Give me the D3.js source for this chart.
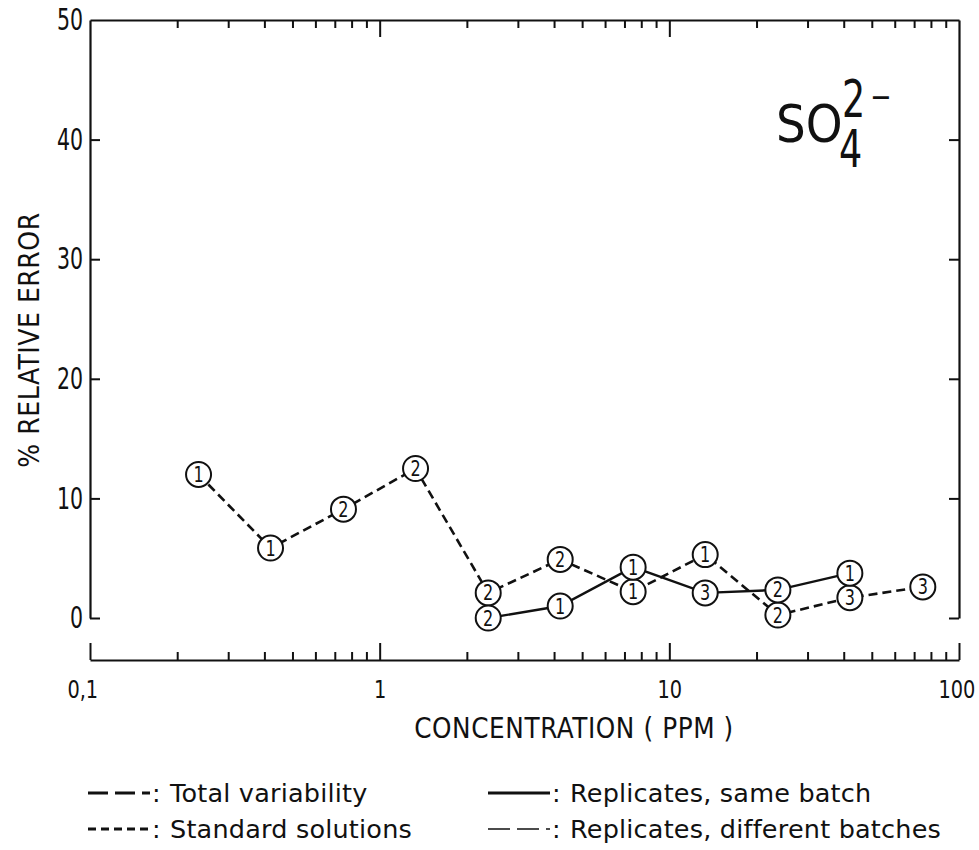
<!DOCTYPE html>
<html>
<head>
<meta charset="utf-8">
<title>SO4 relative error</title>
<script src="https://d3js.org/d3.v7.min.js"></script>
<style>
  body { margin: 0; background: #fff; }
  text { font-family: "DejaVu Sans Condensed", "DejaVu Sans", sans-serif; fill: #111; }
</style>
</head>
<body>
<div id="chart"></div>
<script>
// data
const dashedConc = [0.237, 0.42, 0.75, 1.33, 2.37, 4.2, 7.5, 13.3, 23.7, 42, 75]
const dashedError = [12.0, 5.85, 9.1, 12.5, 2.1, 4.9, 2.2, 5.3, 0.25, 1.7, 2.6]
const dashedLabels = ["1", "1", "2", "2", "2", "2", "1", "1", "2", "3", "3"]

const solidConc = [2.37, 4.2, 7.5, 13.3, 23.7, 42]
const solidError = [0, 1.0, 4.25, 2.1, 2.35, 3.75]
const solidLabels = ["2", "1", "1", "3", "2", "1"]

const yTicks = [0, 10, 20, 30, 40, 50]
const xMajor = [0.1, 1, 10, 100]
const xMajorLabels = ["0,1", "1", "10", "100"]

const legendItems = [
  {label: "Total variability", dash: "20,7", width: 3},
  {label: "Standard solutions", dash: "8,5", width: 3},
  {label: "Replicates, same batch", dash: null, width: 3},
  {label: "Replicates, different batches", dash: "22,7", width: 1.5}
]

const W = 979, H = 850
const svg = d3.select("#chart").append("svg")
    .attr("width", W).attr("height", H)

const x = d3.scaleLog().domain([0.1, 100]).range([90, 959])
const y = d3.scaleLinear().domain([0, 50]).range([618, 20])
const xAxisY = 660

// minor tick values 2..9 per decade
let xMinor = []
for (let d = 0.1; d < 100; d *= 10) {
  for (let k = 2; k <= 9; k++) xMinor.push(+(d * k).toPrecision(3))
}

function styleAxis(g) {
  g.selectAll("path.domain").attr("stroke", "#111").attr("stroke-width", 2.2)
  g.selectAll(".tick line").attr("stroke", "#111").attr("stroke-width", 2)
}

// bottom axis (ticks pointing up)
svg.append("g")
    .attr("transform", "translate(0," + xAxisY + ")")
    .call(d3.axisBottom(x).tickValues(xMinor).tickSize(-8).tickSizeOuter(0).tickFormat(""))
    .call(styleAxis)
svg.append("g")
    .attr("transform", "translate(0," + xAxisY + ")")
    .call(d3.axisBottom(x).tickValues(xMajor).tickSize(-17).tickSizeOuter(0)
        .tickPadding(20).tickFormat((d, i) => xMajorLabels[i]))
    .call(styleAxis)
    .call(g => g.select("path.domain").remove())
    .selectAll("text")
      .attr("font-size", 25)
      .attr("dy", "0.71em")
      .attr("x", d => d === 0.1 ? -9 : (d === 100 ? -3 : 0))
      .attr("transform", "scale(0.86,1)")

// top axis (ticks pointing down)
svg.append("g")
    .attr("transform", "translate(0," + y(50) + ")")
    .call(d3.axisTop(x).tickValues(xMinor).tickSize(-8).tickSizeOuter(0).tickFormat(""))
    .call(styleAxis)
svg.append("g")
    .attr("transform", "translate(0," + y(50) + ")")
    .call(d3.axisTop(x).tickValues([1, 10]).tickSize(-17).tickSizeOuter(0).tickFormat(""))
    .call(styleAxis)
    .call(g => g.select("path.domain").remove())

// left axis
const ySx = 0.76
svg.append("g")
    .attr("transform", "translate(" + x(0.1) + ",0)")
    .call(d3.axisLeft(y).tickValues(yTicks).tickSize(-10).tickSizeOuter(0).tickPadding(7))
    .call(styleAxis)
    .call(g => g.selectAll(".tick").filter(d => d === 50).select("line").remove())
    .selectAll("text")
      .attr("font-size", 30)
      .attr("x", -7 / ySx)
      .attr("transform", "scale(" + ySx + ",1)")

// right axis
svg.append("g")
    .attr("transform", "translate(" + x(100) + ",0)")
    .call(d3.axisRight(y).tickValues(yTicks.slice(0, 5)).tickSize(-10).tickSizeOuter(0).tickFormat(""))
    .call(styleAxis)

// axis titles
svg.append("text")
    .attr("x", 574).attr("y", 738)
    .attr("text-anchor", "middle")
    .attr("font-size", 27.5)
    .attr("letter-spacing", 0.6)
    .text("CONCENTRATION ( PPM )")

svg.append("text")
    .attr("transform", "translate(39,340) rotate(-90)")
    .attr("text-anchor", "middle")
    .attr("font-size", 28)
    .attr("letter-spacing", 0.5)
    .text("% RELATIVE ERROR")

// ion label
svg.append("text").attr("x", 776).attr("y", 142).attr("font-size", 52).text("SO")
svg.append("text").attr("transform", "translate(842,117) scale(0.78,1)").attr("font-size", 52).text("2")
svg.append("text").attr("transform", "translate(871,109) scale(1.1,1)").attr("font-size", 40).text("\u2013")
svg.append("text").attr("transform", "translate(839,167) scale(0.78,1)").attr("font-size", 52).text("4")

// lines
const dashedPts = dashedConc.map((c, i) => ({c: c, e: dashedError[i], n: dashedLabels[i]}))
const solidPts = solidConc.map((c, i) => ({c: c, e: solidError[i], n: solidLabels[i]}))

const line = d3.line().x(d => x(d.c)).y(d => y(d.e))

svg.append("path")
    .datum(dashedPts)
    .attr("d", line)
    .attr("fill", "none")
    .attr("stroke", "#111")
    .attr("stroke-width", 2.6)
    .attr("stroke-dasharray", "9,5")

svg.append("path")
    .datum(solidPts)
    .attr("d", line)
    .attr("fill", "none")
    .attr("stroke", "#111")
    .attr("stroke-width", 2.4)

// circled markers
function drawMarkers(pts) {
  const m = svg.append("g").selectAll("g")
      .data(pts)
      .enter()
      .append("g")
      .attr("transform", d => "translate(" + x(d.c) + "," + y(d.e) + ")")
  m.append("circle")
      .attr("r", 12.5)
      .attr("fill", "#fff")
      .attr("stroke", "#111")
      .attr("stroke-width", 2)
  m.append("text")
      .attr("text-anchor", "middle")
      .attr("dy", "0.36em")
      .attr("font-size", 21)
      .attr("transform", "scale(0.85,1)")
      .text(d => d.n)
}
drawMarkers(dashedPts)
drawMarkers(solidPts)

// legend
const legend = svg.append("g")
const cols = [88, 488], rows = [793, 829]
const order = [[0, 0], [0, 1], [1, 0], [1, 1]]
legendItems.forEach((item, i) => {
  const lx = cols[order[i][0]], ly = rows[order[i][1]]
  legend.append("line")
      .attr("x1", lx).attr("x2", lx + 62)
      .attr("y1", ly).attr("y2", ly)
      .attr("stroke", "#111")
      .attr("stroke-width", item.width)
      .attr("stroke-dasharray", item.dash)
  legend.append("text")
      .attr("x", lx + 64).attr("y", ly)
      .attr("dy", "0.36em")
      .style("font-family", "'DejaVu Sans', sans-serif")
      .attr("font-size", 25.5)
      .text(":")
  legend.append("text")
      .attr("x", lx + 82).attr("y", ly)
      .attr("dy", "0.36em")
      .style("font-family", "'DejaVu Sans', sans-serif")
      .attr("font-size", 25.5)
      .attr("letter-spacing", 0.2)
      .text(item.label)
})
</script>
</body>
</html>
